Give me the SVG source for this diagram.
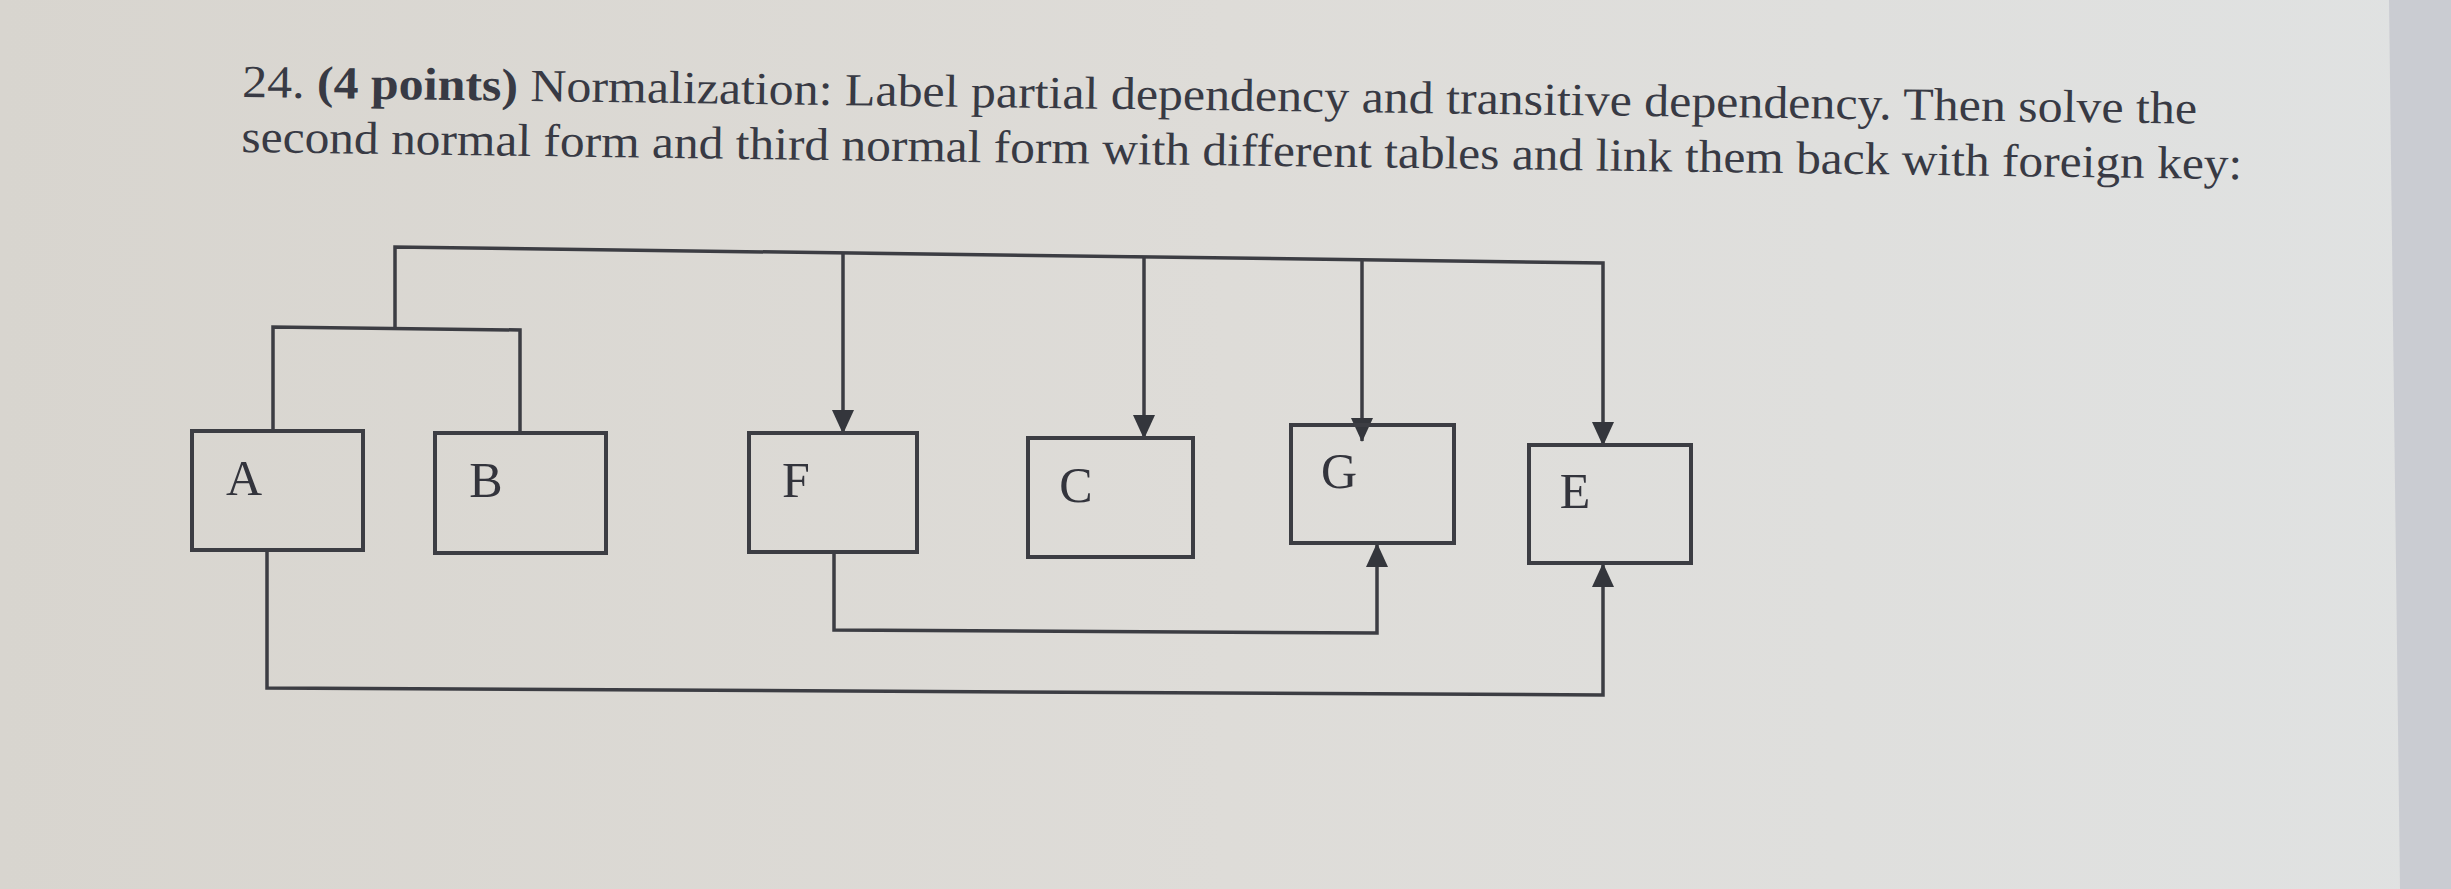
<svg xmlns="http://www.w3.org/2000/svg" width="2451" height="889" viewBox="0 0 2451 889">
<defs>
<linearGradient id="bg" x1="0" y1="0" x2="1" y2="0">
<stop offset="0" stop-color="#d8d5cf"/>
<stop offset="0.5" stop-color="#dedcd8"/>
<stop offset="1" stop-color="#e0e2e2"/>
</linearGradient>
<marker id="ah" viewBox="0 0 24 22" refX="23" refY="11" markerWidth="24" markerHeight="22" markerUnits="userSpaceOnUse" orient="auto">
<path d="M0,0 L24,11 L0,22 Z" fill="#34363c"/>
</marker>
<style>
.title{font-family:"Liberation Serif","Times New Roman",serif;font-size:46px;fill:#383a44}
.b{font-weight:bold}
.box{fill:none;stroke:#3c3d43;stroke-width:4}
.lbl{font-family:"Liberation Serif","Times New Roman",serif;font-size:50px;fill:#33343c;text-anchor:middle}
.con{fill:none;stroke:#3c3d43;stroke-width:3.5;stroke-linejoin:miter}
</style>
</defs>
<rect x="0" y="0" width="2451" height="889" fill="url(#bg)"/>
<polygon points="2389,0 2451,0 2451,889 2400,889" fill="#caccd2"/>

<g id="title" transform="rotate(0.78 242 97)">
<text class="title" x="242" y="97" textLength="1955" lengthAdjust="spacingAndGlyphs">24. <tspan class="b">(4 points)</tspan> Normalization: Label partial dependency and transitive dependency.  Then solve the</text>
<text class="title" x="242" y="152" textLength="2001" lengthAdjust="spacingAndGlyphs">second normal form and third normal form with different tables and link them back with foreign key:</text>
</g>

<g id="connectors">
<path class="con" d="M273,431 L273,327 L520,330 L520,432"/>
<path class="con" d="M395,328 L395,247 L1603,263 L1603,445" marker-end="url(#ah)"/>
<path class="con" d="M843,253 L843,433" marker-end="url(#ah)"/>
<path class="con" d="M1144,257 L1144,438" marker-end="url(#ah)"/>
<path class="con" d="M1362,260 L1362,441" marker-end="url(#ah)"/>
<path class="con" d="M834,552 L834,630 L1377,633 L1377,544" marker-end="url(#ah)"/>
<path class="con" d="M267,550 L267,688 L1603,695 L1603,564" marker-end="url(#ah)"/>
</g>

<g id="node-A"><rect class="box" x="192" y="431" width="171" height="119"/><text class="lbl" x="244" y="495">A</text></g>
<g id="node-B"><rect class="box" x="435" y="433" width="171" height="120"/><text class="lbl" x="486" y="497">B</text></g>
<g id="node-F"><rect class="box" x="749" y="433" width="168" height="119"/><text class="lbl" x="796" y="497">F</text></g>
<g id="node-C"><rect class="box" x="1028" y="438" width="165" height="119"/><text class="lbl" x="1076" y="502">C</text></g>
<g id="node-G"><rect class="box" x="1291" y="425" width="163" height="118"/><text class="lbl" x="1339" y="488">G</text></g>
<g id="node-E"><rect class="box" x="1529" y="445" width="162" height="118"/><text class="lbl" x="1575" y="508">E</text></g>
</svg>
